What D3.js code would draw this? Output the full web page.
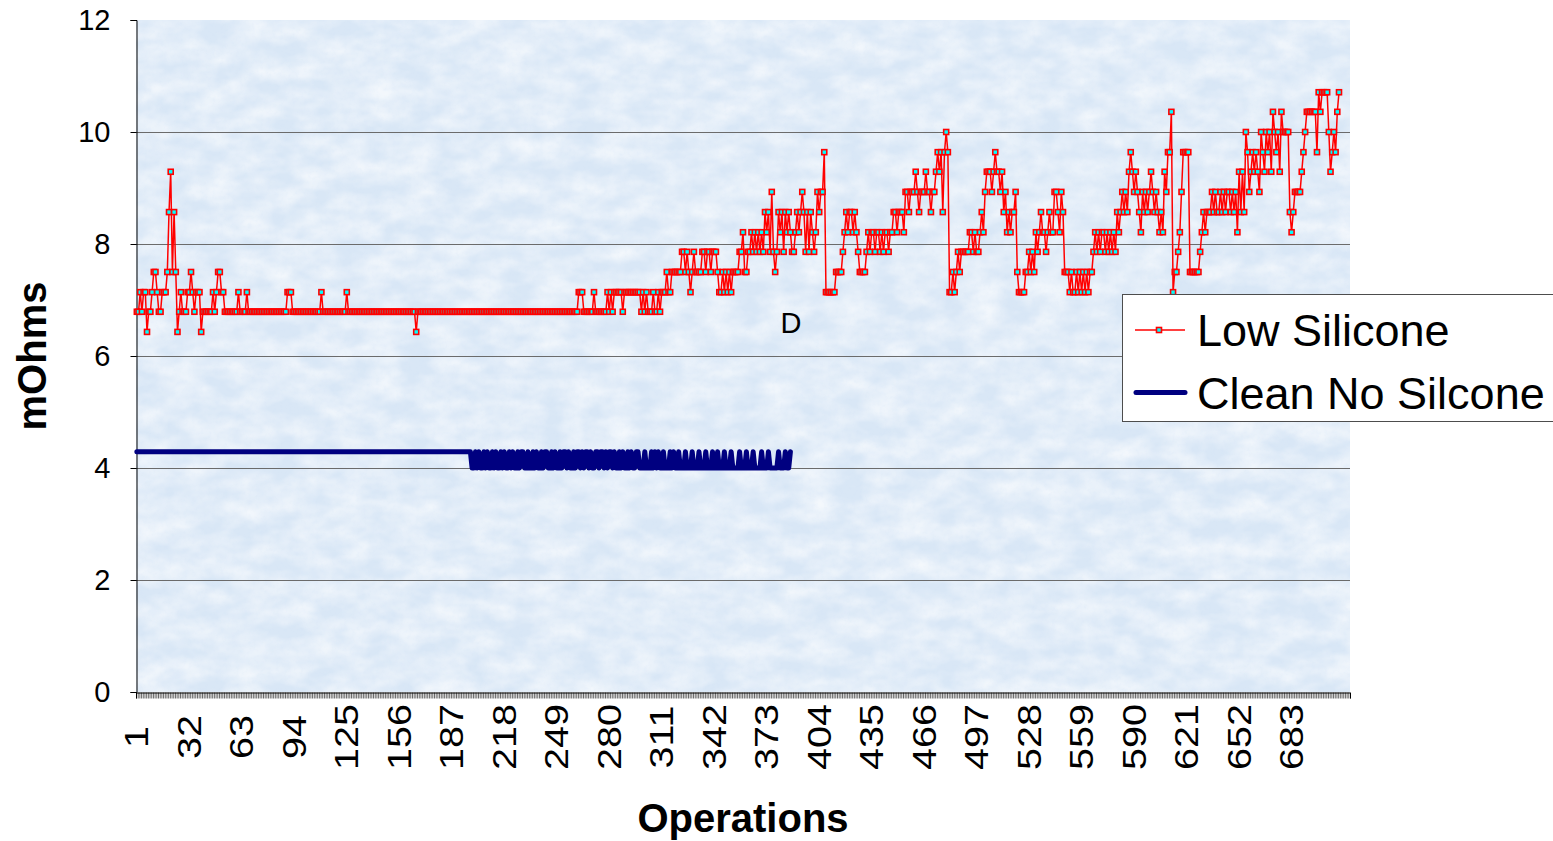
<!DOCTYPE html>
<html>
<head>
<meta charset="utf-8">
<script src="https://cdn.jsdelivr.net/npm/d3@7"></script>
<style>
  html, body { margin: 0; padding: 0; background: #ffffff; }
  svg { display: block; }
  text { font-family: "Liberation Sans", Arial, sans-serif; fill: #000; }
</style>
</head>
<body>
<svg id="chart" width="1553" height="841"></svg>
<script>
// Contact resistance per operation (mOhms)
const operationCount = 717;
const xTickLabels = [1, 32, 63, 94, 125, 156, 187, 218, 249, 280, 311, 342, 373, 404, 435, 466, 497, 528, 559, 590, 621, 652, 683];
const yTickValues = [0, 2, 4, 6, 8, 10, 12];
const seriesNames = ["Low Silicone", "Clean No Silcone"];

const lowSilicone = [
  6.79,6.79,7.14,6.79,7.14,7.14,6.43,6.79,6.79,7.14,
  7.5,7.5,7.14,6.79,6.79,7.14,7.14,7.14,7.5,8.57,
  9.29,7.5,8.57,7.5,6.43,6.79,7.14,6.79,6.79,6.79,
  7.14,7.14,7.5,7.14,6.79,7.14,7.14,7.14,6.43,6.79,
  6.79,6.79,6.79,6.79,6.79,7.14,6.79,7.14,7.5,7.5,
  7.14,7.14,6.79,6.79,6.79,6.79,6.79,6.79,6.79,6.79,
  7.14,6.79,6.79,6.79,6.79,7.14,6.79,6.79,6.79,6.79,
  6.79,6.79,6.79,6.79,6.79,6.79,6.79,6.79,6.79,6.79,
  6.79,6.79,6.79,6.79,6.79,6.79,6.79,6.79,6.79,7.14,
  7.14,7.14,6.79,6.79,6.79,6.79,6.79,6.79,6.79,6.79,
  6.79,6.79,6.79,6.79,6.79,6.79,6.79,6.79,6.79,7.14,
  6.79,6.79,6.79,6.79,6.79,6.79,6.79,6.79,6.79,6.79,
  6.79,6.79,6.79,6.79,7.14,6.79,6.79,6.79,6.79,6.79,
  6.79,6.79,6.79,6.79,6.79,6.79,6.79,6.79,6.79,6.79,
  6.79,6.79,6.79,6.79,6.79,6.79,6.79,6.79,6.79,6.79,
  6.79,6.79,6.79,6.79,6.79,6.79,6.79,6.79,6.79,6.79,
  6.79,6.79,6.79,6.79,6.79,6.43,6.79,6.79,6.79,6.79,
  6.79,6.79,6.79,6.79,6.79,6.79,6.79,6.79,6.79,6.79,
  6.79,6.79,6.79,6.79,6.79,6.79,6.79,6.79,6.79,6.79,
  6.79,6.79,6.79,6.79,6.79,6.79,6.79,6.79,6.79,6.79,
  6.79,6.79,6.79,6.79,6.79,6.79,6.79,6.79,6.79,6.79,
  6.79,6.79,6.79,6.79,6.79,6.79,6.79,6.79,6.79,6.79,
  6.79,6.79,6.79,6.79,6.79,6.79,6.79,6.79,6.79,6.79,
  6.79,6.79,6.79,6.79,6.79,6.79,6.79,6.79,6.79,6.79,
  6.79,6.79,6.79,6.79,6.79,6.79,6.79,6.79,6.79,6.79,
  6.79,6.79,6.79,6.79,6.79,6.79,6.79,6.79,6.79,6.79,
  6.79,7.14,7.14,7.14,6.79,6.79,6.79,6.79,6.79,6.79,
  7.14,6.79,6.79,6.79,6.79,6.79,6.79,6.79,7.14,6.79,
  7.14,6.79,7.14,7.14,7.14,7.14,7.14,6.79,7.14,7.14,
  7.14,7.14,7.14,7.14,7.14,7.14,7.14,7.14,6.79,7.14,
  6.79,7.14,6.79,6.79,6.79,7.14,6.79,6.79,7.14,6.79,
  7.14,7.14,7.14,7.5,7.14,7.14,7.5,7.5,7.5,7.5,
  7.5,7.5,7.86,7.86,7.5,7.86,7.5,7.14,7.5,7.86,
  7.5,7.5,7.5,7.5,7.86,7.86,7.5,7.86,7.86,7.5,
  7.86,7.86,7.86,7.5,7.14,7.14,7.5,7.14,7.5,7.14,
  7.5,7.14,7.5,7.5,7.5,7.5,7.86,7.86,8.21,7.5,
  7.5,7.86,7.86,8.21,7.86,8.21,7.86,8.21,7.86,8.21,
  7.86,8.57,8.21,8.57,7.86,8.93,7.86,7.5,7.86,8.57,
  8.21,8.57,7.86,8.57,8.21,8.57,8.21,7.86,7.86,8.21,
  8.57,8.21,8.57,8.93,8.57,7.86,8.57,7.86,8.57,8.21,
  7.86,8.21,8.93,8.57,8.93,8.93,9.64,7.14,7.14,7.14,
  7.14,7.14,7.14,7.5,7.5,7.5,7.5,7.86,8.21,8.57,
  8.21,8.57,8.57,8.21,8.57,8.21,7.86,7.5,7.5,7.5,
  7.5,7.86,8.21,7.86,8.21,8.21,7.86,8.21,8.21,7.86,
  8.21,7.86,8.21,8.21,7.86,8.21,8.21,8.57,8.57,8.21,
  8.57,8.57,8.57,8.21,8.93,8.93,8.57,8.93,8.93,8.93,
  9.29,8.93,8.57,8.93,8.93,8.93,9.29,8.93,8.93,8.57,
  8.93,8.93,9.29,9.64,9.29,9.64,8.57,9.64,10,9.64,
  7.14,7.14,7.5,7.14,7.5,7.86,7.5,7.86,7.86,7.86,
  7.86,7.86,8.21,8.21,7.86,8.21,7.86,7.86,8.21,8.57,
  8.21,8.93,9.29,9.29,9.29,8.93,9.29,9.64,9.29,9.29,
  8.93,9.29,8.57,8.93,8.21,8.57,8.21,8.57,8.57,8.93,
  7.5,7.14,7.14,7.14,7.14,7.5,7.5,7.86,7.5,7.86,
  7.5,8.21,7.86,8.21,8.57,8.21,8.21,7.86,8.21,8.57,
  8.21,8.21,8.93,8.93,8.57,8.21,8.93,8.57,7.5,7.5,
  7.5,7.14,7.5,7.14,7.14,7.5,7.14,7.5,7.14,7.5,
  7.14,7.5,7.14,7.5,7.5,7.86,8.21,7.86,8.21,7.86,
  8.21,8.21,7.86,8.21,7.86,8.21,7.86,8.21,7.86,8.57,
  8.21,8.57,8.93,8.57,8.93,8.57,9.29,9.64,9.29,8.93,
  9.29,8.93,8.57,8.21,8.93,8.57,8.93,8.57,8.93,9.29,
  8.93,8.57,8.93,8.57,8.21,8.57,8.21,9.29,8.93,9.64,
  9.64,10.36,7.14,7.5,7.5,7.86,8.21,8.93,9.64,9.64,
  9.64,9.64,7.5,7.5,7.5,7.5,7.5,7.5,7.86,8.21,
  8.57,8.21,8.57,8.57,8.57,8.93,8.57,8.93,8.57,8.57,
  8.93,8.57,8.93,8.57,8.93,8.93,8.57,8.93,8.57,8.93,
  8.21,9.29,8.57,9.29,8.57,10,9.64,8.93,9.29,9.64,
  9.29,9.64,9.29,8.93,10,9.64,9.29,10,9.64,10,
  9.29,10.36,10,9.64,10,9.29,10.36,10,10,10,
  10,8.57,8.21,8.57,8.93,8.93,8.93,8.93,9.29,9.64,
  10,10.36,10.36,10.36,10.36,10.36,10.36,9.64,10.71,10.36,
  10.71,10.71,10.71,10.71,10,9.29,9.64,10,9.64,10.36,
  10.71
];

const cleanNoSilicone = [
  4.29,4.29,4.29,4.29,4.29,4.29,4.29,4.29,4.29,4.29,
  4.29,4.29,4.29,4.29,4.29,4.29,4.29,4.29,4.29,4.29,
  4.29,4.29,4.29,4.29,4.29,4.29,4.29,4.29,4.29,4.29,
  4.29,4.29,4.29,4.29,4.29,4.29,4.29,4.29,4.29,4.29,
  4.29,4.29,4.29,4.29,4.29,4.29,4.29,4.29,4.29,4.29,
  4.29,4.29,4.29,4.29,4.29,4.29,4.29,4.29,4.29,4.29,
  4.29,4.29,4.29,4.29,4.29,4.29,4.29,4.29,4.29,4.29,
  4.29,4.29,4.29,4.29,4.29,4.29,4.29,4.29,4.29,4.29,
  4.29,4.29,4.29,4.29,4.29,4.29,4.29,4.29,4.29,4.29,
  4.29,4.29,4.29,4.29,4.29,4.29,4.29,4.29,4.29,4.29,
  4.29,4.29,4.29,4.29,4.29,4.29,4.29,4.29,4.29,4.29,
  4.29,4.29,4.29,4.29,4.29,4.29,4.29,4.29,4.29,4.29,
  4.29,4.29,4.29,4.29,4.29,4.29,4.29,4.29,4.29,4.29,
  4.29,4.29,4.29,4.29,4.29,4.29,4.29,4.29,4.29,4.29,
  4.29,4.29,4.29,4.29,4.29,4.29,4.29,4.29,4.29,4.29,
  4.29,4.29,4.29,4.29,4.29,4.29,4.29,4.29,4.29,4.29,
  4.29,4.29,4.29,4.29,4.29,4.29,4.29,4.29,4.29,4.29,
  4.29,4.29,4.29,4.29,4.29,4.29,4.29,4.29,4.29,4.29,
  4.29,4.29,4.29,4.29,4.29,4.29,4.29,4.29,4.29,4.29,
  4.29,4.29,4.29,4.29,4.29,4.29,4.29,4.29,4,4,
  4.29,4,4.29,4,4,4.29,4,4.29,4,4,
  4.29,4,4.29,4,4,4.29,4,4.29,4,4,
  4.29,4,4.29,4,4,4.29,4,4.29,4.29,4,
  4,4.29,4,4,4.29,4,4.29,4,4,4.29,
  4,4.29,4.29,4,4,4.29,4,4.29,4,4,
  4.29,4,4.29,4.29,4,4.29,4,4,4.29,4,
  4.29,4.29,4,4.29,4,4.29,4.29,4,4.29,4,
  4,4.29,4.29,4,4.29,4.29,4,4.29,4,4.29,
  4.29,4,4.29,4,4,4.29,4,4.29,4,4,
  4.29,4,4.29,4,4,4.29,4.29,4,4,4,
  4.29,4,4,4,4.29,4,4.29,4,4.29,4,
  4,4.29,4,4,4,4.29,4,4.29,4,4,
  4.29,4,4,4,4.29,4,4,4,4.29,4,
  4,4,4.29,4,4,4,4.29,4,4,4,
  4.29,4,4,4.29,4,4,4,4.29,4,4,
  4,4.29,4,4,4,4,4.29,4,4,4,
  4.29,4,4,4,4.29,4,4,4,4,4.29,
  4,4,4,4.29,4,4,4,4,4,4.29,
  4,4,4,4.29,4,4,4.29
];

// Layout
const W = 1553, H = 841;
const plot = { left: 136, right: 1350, top: 20, bottom: 692 };

const svg = d3.select("#chart");

const x = d3.scaleLinear()
  .domain([0.5, operationCount + 0.5])
  .range([plot.left, plot.right]);
const y = d3.scaleLinear()
  .domain([0, 12])
  .range([plot.bottom, plot.top]);

// Plot area texture: pale blue paper with soft mottling
const defs = svg.append("defs");
const tex = defs.append("filter").attr("id", "paper")
  .attr("x", 0).attr("y", 0).attr("width", 1).attr("height", 1);
tex.append("feTurbulence")
  .attr("type", "fractalNoise").attr("baseFrequency", "0.03 0.05")
  .attr("numOctaves", 3).attr("seed", 11).attr("result", "n");
tex.append("feColorMatrix").attr("in", "n").attr("type", "matrix")
  .attr("values", "0 0 0 0 1  0 0 0 0 1  0 0 0 0 1  1.1 0 0 0 -0.3");

const fine = defs.append("filter").attr("id", "grain")
  .attr("x", 0).attr("y", 0).attr("width", 1).attr("height", 1);
fine.append("feTurbulence")
  .attr("type", "fractalNoise").attr("baseFrequency", "0.25")
  .attr("numOctaves", 2).attr("seed", 4).attr("result", "g");
fine.append("feColorMatrix").attr("in", "g").attr("type", "matrix")
  .attr("values", "0 0 0 0 0.62  0 0 0 0 0.75  0 0 0 0 0.92  1.0 0 0 0 -0.45");

svg.append("rect")
  .attr("x", plot.left).attr("y", plot.top)
  .attr("width", plot.right - plot.left).attr("height", plot.bottom - plot.top)
  .attr("fill", "#d9e7f6");
svg.append("rect")
  .attr("x", plot.left).attr("y", plot.top)
  .attr("width", plot.right - plot.left).attr("height", plot.bottom - plot.top)
  .attr("fill", "#fff").attr("filter", "url(#paper)");
svg.append("rect")
  .attr("x", plot.left).attr("y", plot.top)
  .attr("width", plot.right - plot.left).attr("height", plot.bottom - plot.top)
  .attr("fill", "#fff").attr("filter", "url(#grain)").attr("opacity", 0.3);

// Horizontal gridlines
svg.append("g")
  .selectAll("line")
  .data(yTickValues.filter(v => v > 0 && v < 12))
  .join("line")
  .attr("x1", plot.left).attr("x2", plot.right)
  .attr("y1", d => Math.round(y(d)) + 0.5).attr("y2", d => Math.round(y(d)) + 0.5)
  .attr("stroke", "#6b6b6b").attr("stroke-width", 1);

// Y axis
const yAxis = d3.axisLeft(y).tickValues(yTickValues).tickSize(6).tickPadding(20);
const gy = svg.append("g")
  .attr("transform", `translate(${plot.left + 0.5},0)`)
  .call(yAxis);
gy.select(".domain").attr("stroke", "#000");
gy.selectAll(".tick line").attr("stroke", "#000");
gy.selectAll(".tick text")
  .style("font-family", '"Liberation Sans", Arial, sans-serif')
  .style("font-size", "29px")
  .attr("fill", "#000");

// X axis: a tick at every category boundary, labels every 31 operations
const boundaries = d3.range(0, operationCount + 1).map(i => i + 0.5);
const xAxis = d3.axisBottom(x).tickValues(boundaries).tickSize(6).tickFormat("");
const gx = svg.append("g")
  .attr("transform", `translate(0,${plot.bottom + 0.5})`)
  .call(xAxis);
gx.select(".domain").attr("stroke", "#000");
gx.selectAll(".tick line").attr("stroke", "#000").attr("stroke-width", 0.6);

// Vertical category labels, drawn slightly elongated along the reading direction
svg.append("g")
  .selectAll("text")
  .data(xTickLabels)
  .join("text")
  .attr("transform", d => `translate(${x(d)},737) rotate(-90) scale(1.2,1)`)
  .attr("text-anchor", "middle")
  .attr("dy", "0.35em")
  .style("font-size", "33px")
  .text(d => d);

// Axis titles
svg.append("text")
  .attr("x", (plot.left + plot.right) / 2).attr("y", 832)
  .attr("text-anchor", "middle")
  .style("font-size", "40px").style("font-weight", "bold")
  .text("Operations");
svg.append("text")
  .attr("transform", `translate(46,${(plot.top + plot.bottom) / 2}) rotate(-90)`)
  .attr("text-anchor", "middle")
  .style("font-size", "40px").style("font-weight", "bold")
  .text("mOhms");

// Series
const line = d3.line()
  .x((d, i) => x(i + 1))
  .y(d => y(d));

svg.append("path")
  .datum(lowSilicone)
  .attr("fill", "none")
  .attr("stroke", "#ff0000")
  .attr("stroke-width", 1.5)
  .attr("stroke-linejoin", "round")
  .attr("d", line);

svg.append("g")
  .selectAll("rect")
  .data(lowSilicone)
  .join("rect")
  .attr("x", (d, i) => x(i + 1) - 2.5)
  .attr("y", d => y(d) - 2.5)
  .attr("width", 5).attr("height", 5)
  .attr("fill", "#00ffff")
  .attr("stroke", "#ff0000")
  .attr("stroke-width", 1.6);

svg.append("path")
  .datum(cleanNoSilicone)
  .attr("fill", "none")
  .attr("stroke", "#000080")
  .attr("stroke-width", 5)
  .attr("stroke-linejoin", "round")
  .attr("stroke-linecap", "round")
  .attr("d", line);

// Annotation
svg.append("text")
  .attr("x", 791).attr("y", 333)
  .attr("text-anchor", "middle")
  .style("font-size", "29px")
  .text("D");

// Legend
const legend = svg.append("g");
legend.append("rect")
  .attr("x", 1122.5).attr("y", 294.5)
  .attr("width", 440).attr("height", 127)
  .attr("fill", "#fff").attr("stroke", "#4d4d4d").attr("stroke-width", 1);

legend.append("line")
  .attr("x1", 1135).attr("x2", 1185).attr("y1", 330).attr("y2", 330)
  .attr("stroke", "#ff0000").attr("stroke-width", 1.5);
legend.append("rect")
  .attr("x", 1159 - 2.5).attr("y", 330 - 2.5).attr("width", 5).attr("height", 5)
  .attr("fill", "#00ffff").attr("stroke", "#ff0000").attr("stroke-width", 1.6);
legend.append("line")
  .attr("x1", 1136).attr("x2", 1185).attr("y1", 392.5).attr("y2", 392.5)
  .attr("stroke", "#000080").attr("stroke-width", 5).attr("stroke-linecap", "round");

legend.selectAll("text.entry")
  .data(seriesNames)
  .join("text")
  .attr("class", "entry")
  .attr("x", 1197)
  .attr("y", (d, i) => 346 + i * 63)
  .style("font-size", "45px")
  .text(d => d);
</script>
</body>
</html>
